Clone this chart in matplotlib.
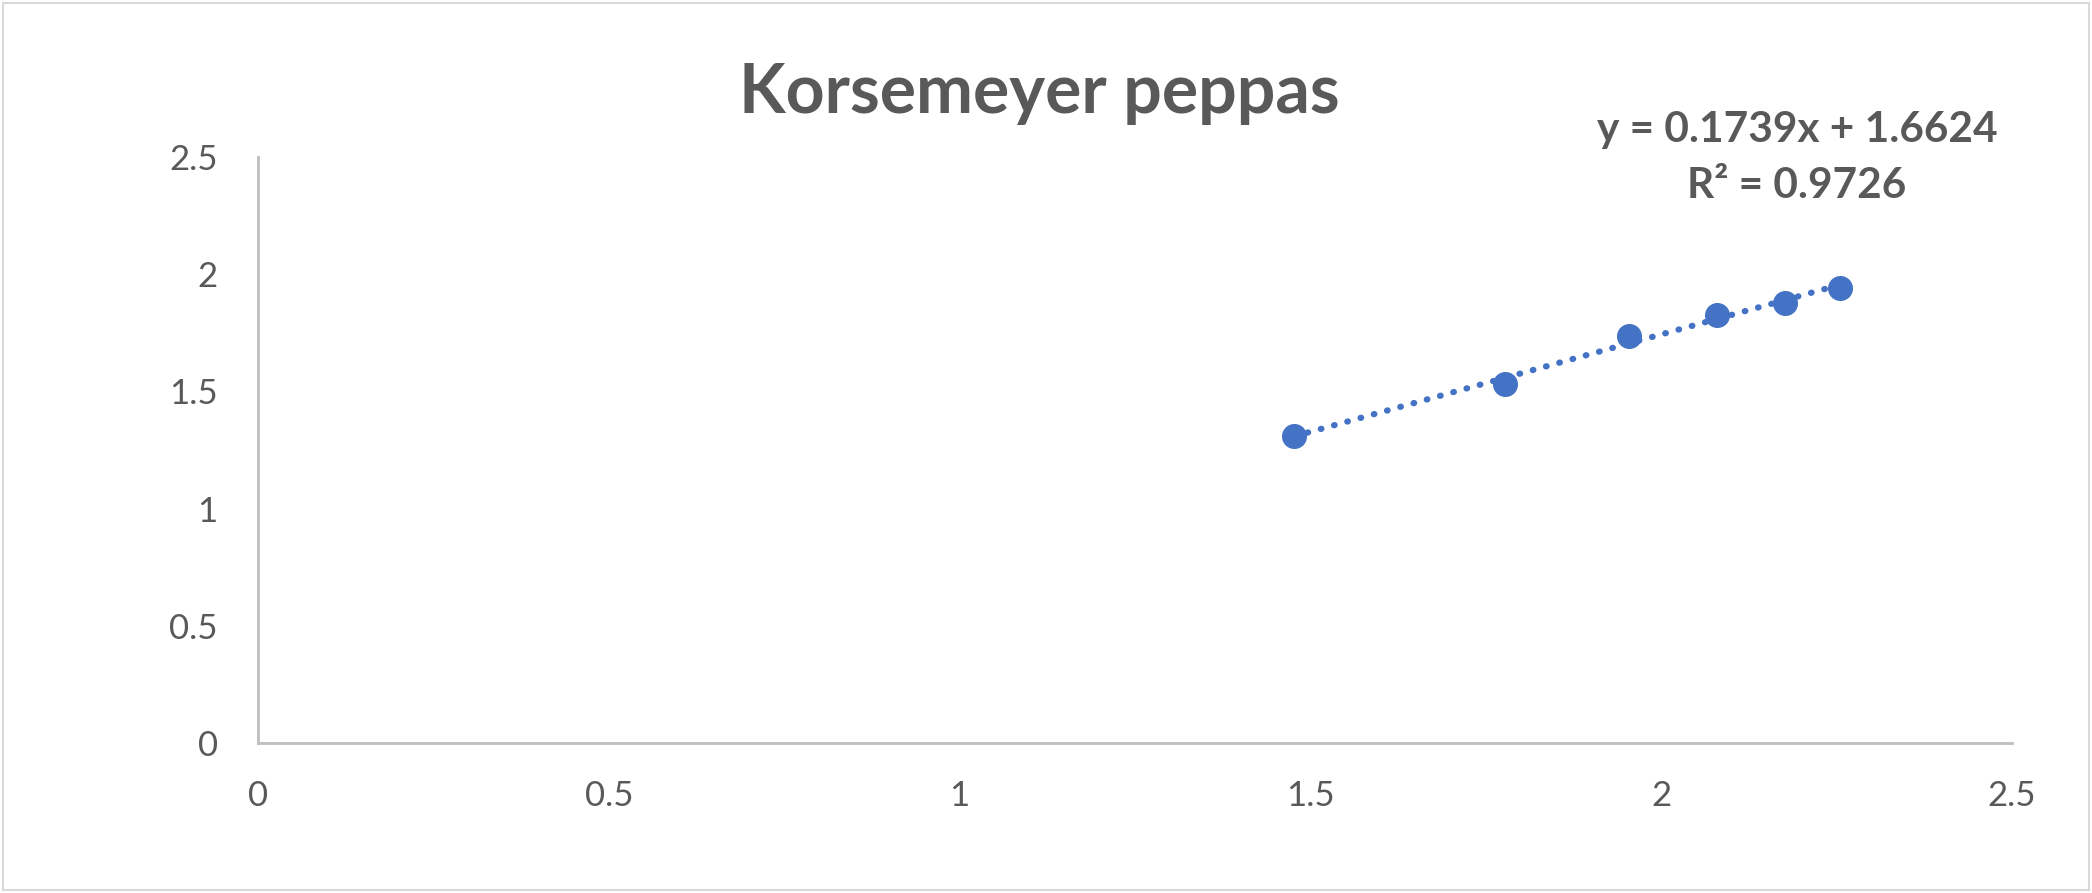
import matplotlib.pyplot as plt
import numpy as np
from matplotlib.patches import Rectangle

# log time vs log % release
log_t = [1.477, 1.778, 1.954, 2.079, 2.176, 2.255]
log_rel = [1.310, 1.532, 1.737, 1.828, 1.879, 1.942]

title = "Korsemeyer peppas"
eq_label = "y = 0.1739x + 1.6624\nR² = 0.9726"
ticks = [0, 0.5, 1, 1.5, 2, 2.5]

grey = "#595959"
blue = "#4472C4"

plt.rcParams['font.family'] = ['Lato', 'DejaVu Sans']

fig = plt.figure(figsize=(20.92, 8.93), dpi=100)
ax = fig.add_axes([0.1233, 0.168, 0.8385, 0.656])

# trendline
coef = np.polyfit(log_t, log_rel, 1)
xs = np.array([min(log_t), max(log_t)])
ax.plot(xs, np.polyval(coef, xs), color=blue, lw=4.5,
        linestyle=(0, (0.1, 2.1)), dash_capstyle='round', zorder=2)
ax.plot(log_t, log_rel, 'o', color=blue, markersize=17, zorder=3)

ax.set_xlim(0, 2.5)
ax.set_ylim(0, 2.5)
ax.set_xticks(ticks)
ax.set_yticks(ticks)
ax.set_xticklabels([f"{t:g}" for t in ticks])
ax.set_yticklabels([f"{t:g}" for t in ticks])
ax.tick_params(length=0, labelsize=25, labelcolor=grey)
ax.tick_params(axis='x', pad=27)
ax.tick_params(axis='y', pad=29)

for s in ['top', 'right']:
    ax.spines[s].set_visible(False)
for s in ['left', 'bottom']:
    ax.spines[s].set_color("#BFBFBF")
    ax.spines[s].set_linewidth(2)

fig.text(0.497, 0.895, title, ha='center', va='center', fontsize=49,
         fontweight='bold', color=grey)
fig.text(0.859, 0.823, eq_label, ha='center', va='center', fontsize=30.5,
         fontweight='bold', color=grey, linespacing=1.6)

# outer chart border
fig.patches.append(Rectangle((0.0015, 0.003), 0.997, 0.994, transform=fig.transFigure,
                             fill=False, edgecolor="#D9D9D9", lw=1.5))

fig.savefig("out.png", dpi=100)
